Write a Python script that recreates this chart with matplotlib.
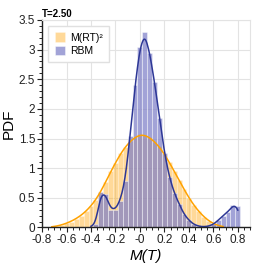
import numpy as np
import pandas as pd
import matplotlib
matplotlib.use('Agg')
import matplotlib.pyplot as plt
from matplotlib.ticker import AutoMinorLocator, FormatStrFormatter
import seaborn as sns

# histogram bins (width 0.04), centres from -0.76 to 0.84
bin_edges = np.round(np.arange(-0.78, 0.87, 0.04), 2)
bin_centers = np.round(0.5 * (bin_edges[:-1] + bin_edges[1:]), 2)

# PDF of M(RT)^2 samples
pdf_mrt = [0.00, 0.01, 0.02, 0.04, 0.07, 0.10, 0.15, 0.20, 0.27, 0.36,
           0.46, 0.60, 0.76, 0.95, 1.08, 1.25, 1.36, 1.46, 1.52, 1.58,
           1.56, 1.53, 1.44, 1.37, 1.24, 1.10, 0.95, 0.80, 0.64, 0.50,
           0.37, 0.27, 0.18, 0.11, 0.06, 0.03, 0.01, 0.00, 0.00, 0.00, 0.00]

# PDF of RBM samples
pdf_rbm = [0.00, 0.00, 0.00, 0.00, 0.00, 0.00, 0.00, 0.00, 0.00, 0.01,
           0.05, 0.60, 0.57, 0.30, 0.30, 0.45, 0.78, 1.55, 2.40, 3.05,
           3.30, 2.95, 2.45, 1.85, 1.25, 0.85, 0.58, 0.40, 0.22, 0.12,
           0.05, 0.02, 0.01, 0.02, 0.05, 0.12, 0.20, 0.26, 0.38, 0.36, 0.00]

# label, values, line colour, bar colour, bar alpha, kde bw_adjust
series = [("M(RT)\u00b2", pdf_mrt, "#FFA200", "#FFA200", 0.40, 0.3),
          ("RBM", pdf_rbm, "#2D3796", "#7F80C8", 0.72, 0.2)]

plt.rcParams['font.family'] = ['Liberation Sans', 'DejaVu Sans']

fig = plt.figure(figsize=(2.66, 2.66), dpi=100)
ax = fig.add_axes([0.158, 0.145, 0.782, 0.780])

for label, h, lcol, bcol, a, bw in series:
    df = pd.DataFrame({'m': bin_centers, 'w': h})
    df = df[df['w'] > 0]
    n0 = len(ax.patches)
    sns.histplot(data=df, x='m', weights='w', bins=list(bin_edges), stat='count',
                 kde=True, kde_kws={'bw_adjust': bw}, line_kws={'lw': 1.1},
                 color=lcol, edgecolor='white', linewidth=0.4,
                 label=label, ax=ax)
    for p in ax.patches[n0:]:
        p.set_facecolor(bcol)
        p.set_alpha(a)
        p.set_edgecolor((1, 1, 1, 0.8))

ax.set_xlim(-0.8, 0.9)
ax.set_ylim(0, 3.5)
ax.set_xticks(np.round(np.arange(-0.8, 0.81, 0.2), 1))
ax.set_yticks(np.arange(0, 3.51, 0.5))
ax.xaxis.set_major_formatter(FormatStrFormatter('%g'))
ax.yaxis.set_major_formatter(FormatStrFormatter('%g'))
ax.xaxis.set_minor_locator(AutoMinorLocator(4))
ax.yaxis.set_minor_locator(AutoMinorLocator(5))
ax.tick_params(which='major', direction='out', length=3.5, width=0.8,
               labelsize=8.5, colors='#222222', pad=1.5)
ax.tick_params(which='minor', direction='out', length=2, width=0.6)
ax.grid(True, color='#e3e3e3', lw=0.8)
ax.set_axisbelow(True)
for s in ['top', 'right']:
    ax.spines[s].set_color('#e3e3e3')
for s in ['left', 'bottom']:
    ax.spines[s].set_color('#222222')
    ax.spines[s].set_linewidth(1.0)

ax.set_title('T=2.50', loc='left', fontsize=7, fontweight='bold', pad=2)
ax.set_ylabel('PDF', fontsize=11, labelpad=2)
ax.set_xlabel('M(T)', fontsize=11, fontstyle='italic', labelpad=2)

ax.legend(loc='upper left', fontsize=7.5, handlelength=1.0, handleheight=1.0,
          frameon=True, fancybox=False, edgecolor='#e0e0e0', framealpha=1,
          borderaxespad=0.6, handletextpad=0.5, borderpad=0.6, labelspacing=0.3)

fig.savefig('out.png', dpi=100)
